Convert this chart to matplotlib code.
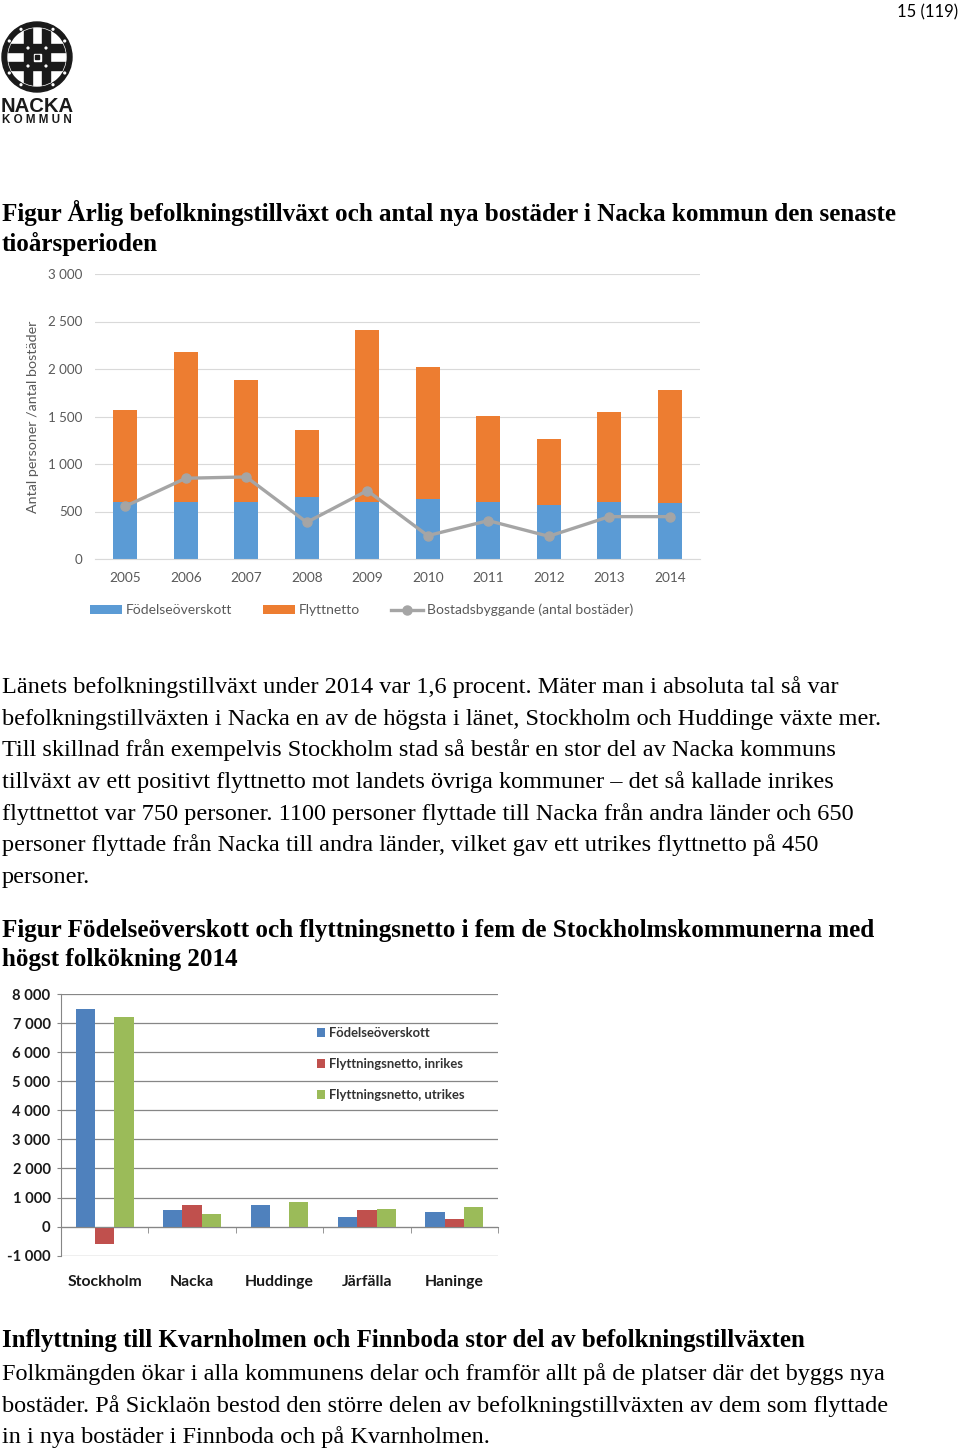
import matplotlib
matplotlib.use("Agg")
import matplotlib.pyplot as plt
import matplotlib.patches as mpatches
from matplotlib.ticker import FuncFormatter, FixedLocator
import numpy as np

# ---------------- data ----------------
years = ["2005", "2006", "2007", "2008", "2009", "2010", "2011", "2012", "2013", "2014"]
fodelseoverskott = [600, 600, 598, 648, 595, 630, 598, 570, 598, 585]
flyttnetto = [965, 1582, 1285, 715, 1815, 1390, 906, 688, 948, 1189]
bostadsbyggande = [555, 850, 864, 386, 720, 246, 404, 239, 446, 446]
y1_ticks = [0, 500, 1000, 1500, 2000, 2500, 3000]

kommuner = ["Stockholm", "Nacka", "Huddinge", "Järfälla", "Haninge"]
fodelse2 = [7470, 575, 750, 345, 505]
inrikes = [-600, 750, 0, 575, 250]
utrikes = [7200, 450, 850, 600, 670]
y2_ticks = [-1000, 0, 1000, 2000, 3000, 4000, 5000, 6000, 7000, 8000]

title1 = ["Figur Årlig befolkningstillväxt och antal nya bostäder i Nacka kommun den senaste",
          "tioårsperioden"]
body1 = ["Länets befolkningstillväxt under 2014 var 1,6 procent. Mäter man i absoluta tal så var",
         "befolkningstillväxten i Nacka en av de högsta i länet, Stockholm och Huddinge växte mer.",
         "Till skillnad från exempelvis Stockholm stad så består en stor del av Nacka kommuns",
         "tillväxt av ett positivt flyttnetto mot landets övriga kommuner – det så kallade inrikes",
         "flyttnettot var 750 personer. 1100 personer flyttade till Nacka från andra länder och 650",
         "personer flyttade från Nacka till andra länder, vilket gav ett utrikes flyttnetto på 450",
         "personer."]
title2 = ["Figur Födelseöverskott och flyttningsnetto i fem de Stockholmskommunerna med",
          "högst folkökning 2014"]
heading3 = "Inflyttning till Kvarnholmen och Finnboda stor del av befolkningstillväxten"
body3 = ["Folkmängden ökar i alla kommunens delar och framför allt på de platser där det byggs nya",
         "bostäder. På Sicklaön bestod den större delen av befolkningstillväxten av dem som flyttade",
         "in i nya bostäder i Finnboda och på Kvarnholmen."]

# ---------------- figure ----------------
W, H = 960, 1453
fig = plt.figure(figsize=(W / 100, H / 100), dpi=100)
fig.patch.set_facecolor("white")
renderer = fig.canvas.get_renderer()

SERIF = ["Liberation Serif", "DejaVu Serif"]
SANS = ["Lato", "DejaVu Sans"]


def fx(x):
    return x / W


def fy(y):
    return 1 - y / H


def fit_size(sample, target_px, family, weight="normal"):
    t = fig.text(0, 0, sample, fontsize=20, family=family, weight=weight)
    w = t.get_window_extent(renderer).width
    t.remove()
    return 20 * target_px / w


# page number
fig.text(fx(958), fy(17), "15 (119)", ha="right", va="baseline", family=SANS,
         fontsize=12, color="black")

# ---------------- logo ----------------
lax = fig.add_axes([0, 1 - 130 / H, 80 / W, 130 / H])
lax.set_xlim(0, 80)
lax.set_ylim(130, 0)
lax.axis("off")
cx, cy = 37, 57
lax.add_patch(mpatches.Circle((cx, cy), 35, color="#1a1a1a"))
inner = mpatches.Circle((cx, cy), 29, color="white")
lax.add_patch(inner)
for off in (-13, 5):
    r1 = mpatches.Rectangle((cx + off, cy - 30), 8, 60, color="#1a1a1a")
    r2 = mpatches.Rectangle((cx - 30, cy + off), 60, 8, color="#1a1a1a")
    for r in (r1, r2):
        lax.add_patch(r)
        r.set_clip_path(inner)
lax.add_patch(mpatches.Rectangle((cx - 5, cy - 5), 10, 10, color="#1a1a1a"))
lax.add_patch(mpatches.Rectangle((cx - 3.5, cy - 3.5), 7, 7, color="white"))
lax.add_patch(mpatches.Rectangle((cx - 2, cy - 2), 4, 4, color="#1a1a1a"))
for ang in np.deg2rad([30, 60, 120, 150, 210, 240, 300, 330]):
    lax.add_patch(mpatches.Circle((cx + 32 * np.cos(ang), cy + 32 * np.sin(ang)), 0.9, color="white"))
for dx in (-9, 9):
    for dy in (-9, 9):
        lax.add_patch(mpatches.Circle((cx + dx, cy + dy), 0.9, color="white"))
lax.text(cx, 112, "NACKA", ha="center", va="baseline", family=["Liberation Sans"], weight="bold",
         fontsize=fit_size("NACKA", 73, ["Liberation Sans"], "bold"), color="#1a1a1a")
lax.text(cx, 123, "K O M M U N", ha="center", va="baseline", family=["Liberation Sans"], weight="bold",
         fontsize=fit_size("K O M M U N", 70, ["Liberation Sans"], "bold"), color="#1a1a1a")

# ---------------- text blocks ----------------
ts = fit_size(title1[0], 895, SERIF, "bold")
for line, base in zip(title1, [221, 251]):
    fig.text(fx(2), fy(base), line, family=SERIF, weight="bold", fontsize=ts, va="baseline")

bs = fit_size(body1[1], 879, SERIF)
for i, line in enumerate(body1):
    fig.text(fx(2), fy(693 + i * 31.7), line, family=SERIF, fontsize=bs, va="baseline")

ts2 = fit_size(title2[0], 875, SERIF, "bold")
for line, base in zip(title2, [937, 966]):
    fig.text(fx(2), fy(base), line, family=SERIF, weight="bold", fontsize=ts2, va="baseline")

hs = fit_size(heading3, 801, SERIF, "bold")
fig.text(fx(2), fy(1347), heading3, family=SERIF, weight="bold", fontsize=hs, va="baseline")
bs3 = fit_size(body3[1], 886, SERIF)
for i, line in enumerate(body3):
    fig.text(fx(2), fy(1380 + i * 31.7), line, family=SERIF, fontsize=bs3, va="baseline")

# ---------------- chart 1 ----------------
GREY_T = "#595959"
ax1 = fig.add_axes([fx(95), fy(559), 605 / W, 285 / H])
x = np.arange(len(years))
h_b = ax1.bar(x, fodelseoverskott, width=0.4, color="#5B9BD5", label="Födelseöverskott", zorder=2)
h_o = ax1.bar(x, flyttnetto, width=0.4, bottom=fodelseoverskott, color="#ED7D31", label="Flyttnetto", zorder=2)
h_l, = ax1.plot(x, bostadsbyggande, color="#A5A5A5", lw=2.4, marker="o", markersize=6.5,
                label="Bostadsbyggande (antal bostäder)", zorder=3)
ax1.set_xlim(-0.5, len(years) - 0.5)
ax1.set_ylim(y1_ticks[0], y1_ticks[-1])
ax1.set_yticks(y1_ticks)
fmt = FuncFormatter(lambda v, p: f"{int(v):,}".replace(",", " "))
ax1.yaxis.set_major_formatter(fmt)
ax1.set_xticks(x)
ax1.set_xticklabels(years)
ax1.grid(axis="y", color="#d9d9d9", lw=0.8, zorder=0)
for s in ax1.spines.values():
    s.set_visible(False)
ax1.spines["bottom"].set_visible(True)
ax1.spines["bottom"].set_color("#d9d9d9")
ax1.tick_params(axis="both", length=0, labelcolor=GREY_T)
ax1.tick_params(axis="y", pad=9, labelsize=9.6)
ax1.tick_params(axis="x", pad=9, labelsize=9.8)
for lab in ax1.get_xticklabels() + ax1.get_yticklabels():
    lab.set_family(SANS)
fig.text(fx(33), fy(417), "Antal personer /antal bostäder", rotation=90, ha="center", va="center",
         family=SANS, fontsize=10.3, color=GREY_T)
leg1 = ax1.legend([h_b, h_o, h_l], [h_b.get_label(), h_o.get_label(), h_l.get_label()],
                  loc="center left", bbox_to_anchor=(fx(90), fy(610)), bbox_transform=fig.transFigure,
                  ncol=3, frameon=False, handlelength=2.3, handleheight=0.6, handletextpad=0.3,
                  columnspacing=2.2, borderpad=0, borderaxespad=0,
                  prop={"family": SANS, "size": 10})
for t in leg1.get_texts():
    t.set_color(GREY_T)

# ---------------- chart 2 ----------------
GRID2 = "#868686"
ax2 = fig.add_axes([fx(61), fy(1255.7), 437 / W, 261.7 / H])
x2 = np.arange(len(kommuner))
bw = 0.22
ax2.bar(x2 - bw, fodelse2, width=bw, color="#4F81BD", label="Födelseöverskott", zorder=2)
ax2.bar(x2, inrikes, width=bw, color="#C0504D", label="Flyttningsnetto, inrikes", zorder=2)
ax2.bar(x2 + bw, utrikes, width=bw, color="#9BBB59", label="Flyttningsnetto, utrikes", zorder=2)
ax2.set_xlim(-0.5, len(kommuner) - 0.5)
ax2.set_ylim(y2_ticks[0], y2_ticks[-1])
ax2.set_yticks(y2_ticks)
ax2.yaxis.set_major_formatter(fmt)
ax2.grid(axis="y", color=GRID2, lw=0.9, zorder=0)
ax2.spines["top"].set_visible(False)
ax2.spines["right"].set_visible(False)
ax2.spines["left"].set_color(GRID2)
ax2.spines["bottom"].set_color(GRID2)
ax2.spines["bottom"].set_position(("data", 0))
ax2.set_xticks(x2)
ax2.set_xticklabels(kommuner)
ax2.xaxis.set_minor_locator(FixedLocator(np.arange(len(kommuner) + 1) - 0.5))
ax2.tick_params(axis="x", which="major", length=0, pad=35, labelsize=11.3, labelcolor="#1a1a1a")
ax2.tick_params(axis="x", which="minor", length=4, color=GRID2, direction="out")
ax2.tick_params(axis="y", length=3, color=GRID2, pad=4.5, labelsize=10.6, labelcolor="#1a1a1a")
for lab in ax2.get_xticklabels() + ax2.get_yticklabels():
    lab.set_family(SANS)
    lab.set_weight("bold")
leg2 = ax2.legend(loc="center left", bbox_to_anchor=(fx(317), fy(1064)), bbox_transform=fig.transFigure,
                  frameon=False, handlelength=0.65, handleheight=0.65, handletextpad=0.3,
                  labelspacing=1.45, borderpad=0, borderaxespad=0,
                  prop={"family": SANS, "size": 9.4, "weight": "bold"})
for t in leg2.get_texts():
    t.set_color("#333333")

fig.savefig("out.png", dpi=100)
